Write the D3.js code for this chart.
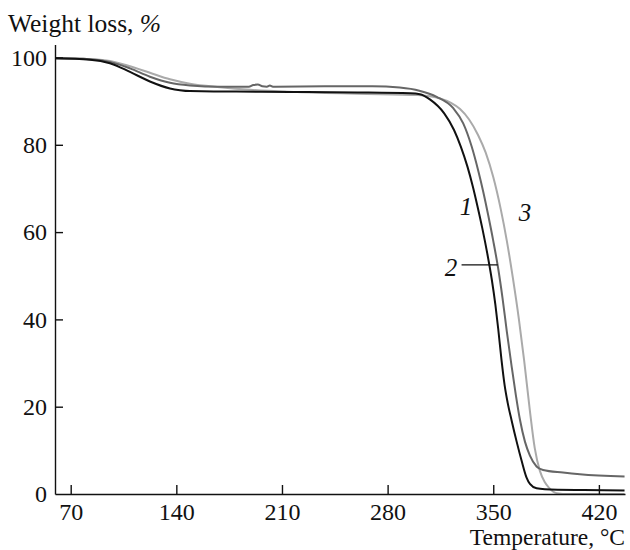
<!DOCTYPE html>
<html>
<head>
<meta charset="utf-8">
<script src="https://cdn.jsdelivr.net/npm/d3@7"></script>
<style>
  body { margin: 0; background: #fff; }
  svg text { font-family: "Liberation Serif", "DejaVu Serif", serif; fill: #111; }
</style>
</head>
<body>
<svg id="svg" width="630" height="550"></svg>
<script>
// temperature (°C) / weight (%) readings for each sample
const curve1 = [
  [59.6, 99.8], [82.8, 99.5], [96, 98.7], [109.3, 96.7], [122.5, 94.5], [135.8, 92.9],
  [142.4, 92.5], [149, 92.3], [180, 92.2], [215, 92.1], [260, 92.0], [295, 91.8],
  [301.4, 91.6], [308, 90.4], [317.5, 87.2], [324, 83.4], [328.5, 79.6], [332.9, 75.0],
  [336.5, 70.4], [339.5, 66.0], [342.8, 60.8], [346.1, 55.0], [349, 49.2], [351.4, 43.4],
  [353.3, 37.8], [355.5, 30.6], [357.5, 25.0], [359.5, 21.0], [362.2, 16.8], [365.5, 12.0],
  [368.8, 7.6], [372, 3.8], [374.3, 2.3], [378.7, 1.3], [384.2, 1.1], [410, 0.9], [437, 0.8]
];
const curve2 = [
  [59.6, 99.8], [82.8, 99.6], [96, 99.0], [109.3, 97.5], [122.5, 95.6], [135.8, 94.2],
  [149, 93.6], [169, 93.3], [188, 93.3], [191, 93.7], [194, 93.8], [197, 93.4],
  [200, 93.3], [202, 93.6], [204, 93.3], [240, 93.4], [270, 93.4], [288, 93.1],
  [301, 92.4], [312.5, 91.0], [323.5, 88.4], [330.1, 84.9], [335.7, 79.6], [340.1, 74.0],
  [343.4, 69.2], [346.7, 63.8], [350, 58.0], [353.3, 51.6], [356.1, 45.0], [359, 37.2],
  [362.2, 29.2], [365, 22.6], [367.7, 17.0], [371, 12.0], [374.3, 8.8], [378.7, 6.3],
  [383, 5.5], [396.2, 4.9], [407.4, 4.5], [437, 4.0]
];
const curve3 = [
  [59.6, 99.8], [82.8, 99.6], [96, 99.2], [109.3, 98.0], [122.5, 96.5], [135.8, 95.0],
  [149, 94.0], [169, 93.2], [189, 92.6], [220, 92.1], [260, 91.7], [300, 91.4],
  [308, 91.1], [314.7, 90.6], [322, 89.6], [328, 88.2], [334, 85.8], [340, 82.2],
  [345, 78.2], [350, 72.6], [355, 65.2], [359, 58.0], [363, 49.5], [367, 40.0],
  [370.5, 30.5], [374.3, 19.0], [377.5, 10.5], [380.9, 5.3], [384, 2.8], [387, 1.4],
  [392, 0.2], [400, 0], [437, 0]
];
const xTicks = [70, 140, 210, 280, 350, 420];
const yLabels = [0, 20, 40, 60, 80, 100];

const series = [
  { name: '1', pts: curve1, color: '#111111' },
  { name: '2', pts: curve2, color: '#666666' },
  { name: '3', pts: curve3, color: '#aaaaaa' }
];

const svg = d3.select('#svg');
const x = d3.scaleLinear().domain([59.6, 437.3]).range([55, 625]);
const y = d3.scaleLinear().domain([0, 103]).range([494, 44.4]);

const line = d3.line().x(d => x(d[0])).y(d => y(d[1])).curve(d3.curveMonotoneX);

svg.append('g').selectAll('path').data(series.slice().reverse()).join('path')
  .attr('d', d => line(d.pts))
  .attr('fill', 'none').attr('stroke', d => d.color).attr('stroke-width', 2);

// axes
const gx = svg.append('g').attr('transform', 'translate(0,494)')
  .call(d3.axisBottom(x).tickValues(xTicks).tickSizeInner(-9).tickSizeOuter(0).tickPadding(9));
const gy = svg.append('g').attr('transform', 'translate(55,0)')
  .call(d3.axisLeft(y).tickValues(yLabels).tickSizeInner(-8).tickSizeOuter(0).tickPadding(8));
gy.selectAll('.tick').filter(d => d === 0).select('line').remove();
[gx, gy].forEach(g => {
  g.selectAll('path, line').attr('stroke', '#111').attr('stroke-width', 1.4);
  g.selectAll('text').attr('font-size', 24).attr('font-family', '"Liberation Serif", serif').attr('fill', '#111');
});

// titles
const t1 = svg.append('text').attr('x', 8).attr('y', 32).attr('font-size', 25.5);
t1.append('tspan').text('Weight loss, ');
t1.append('tspan').attr('font-style', 'italic').text('%');
svg.append('text').attr('x', 625).attr('y', 545).attr('text-anchor', 'end').attr('font-size', 23.5)
  .text('Temperature, °C');

// curve labels
const lab = svg.append('g').attr('font-size', 25).attr('font-style', 'italic');
lab.append('text').attr('x', 466).attr('y', 215).attr('text-anchor', 'middle').text('1');
lab.append('text').attr('x', 525).attr('y', 221).attr('text-anchor', 'middle').text('3');
lab.append('text').attr('x', 451).attr('y', 276).attr('text-anchor', 'middle').text('2');
svg.append('line').attr('x1', x(329)).attr('x2', x(353)).attr('y1', y(52.5)).attr('y2', y(52.5))
  .attr('stroke', '#111').attr('stroke-width', 1.2);
</script>
</body>
</html>
